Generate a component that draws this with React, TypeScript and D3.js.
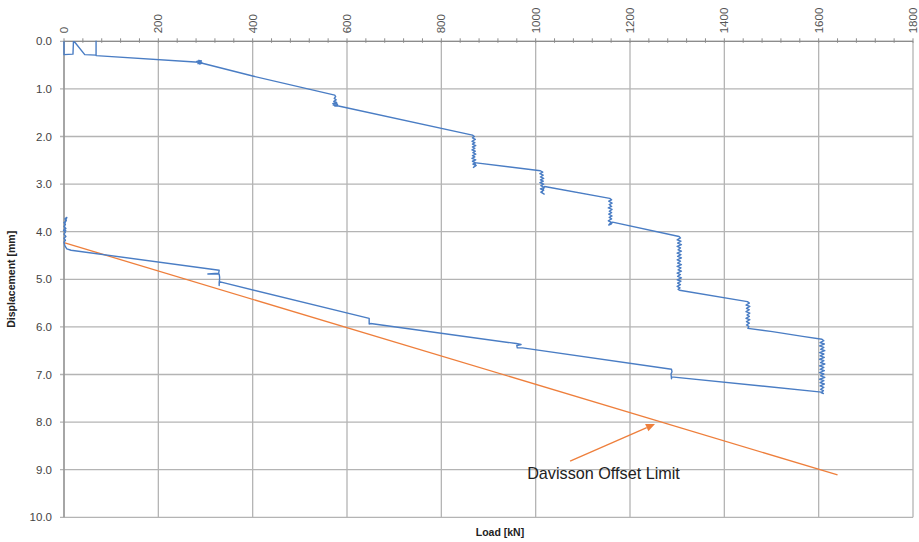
import React from "react";
import * as d3 from "d3";

// Load (kN) axis ticks and displacement (mm) axis ticks
const loadTicks = [0, 200, 400, 600, 800, 1000, 1200, 1400, 1600, 1800];
const loadMinorStep = 40;
const dispTicks = [0, 1, 2, 3, 4, 5, 6, 7, 8, 9, 10];

// Pile load test record: [load kN, displacement mm]
const seating: [number, number][] = [
  [0, 0], [0, 0.28], [19, 0.27], [20, 0.01], [23, 0.02], [44, 0.28], [68, 0.29], [68, 0.0], [68, 0.3],
];
const stage290: [number, number][] = [
  [286, 0.44], [282, 0.42], [291, 0.41], [284, 0.47], [290, 0.47], [283, 0.44], [292, 0.44], [286, 0.4],
  [288, 0.48], [285, 0.43], [289, 0.45], [400, 0.73],
];
const stage575: [number, number][] = [
  [574, 1.13], [576, 1.16], [573, 1.2], [577, 1.23], [572, 1.26], [577, 1.28], [570, 1.31], [579, 1.3],
  [571, 1.34], [580, 1.33], [574, 1.36], [582, 1.36],
];
const stage870: [number, number][] = [
  [866, 1.97], [870, 2.0], [866, 2.03], [872, 2.06], [865, 2.1], [871, 2.13], [866, 2.16], [873, 2.19],
  [866, 2.22], [871, 2.25], [865, 2.28], [872, 2.31], [867, 2.34], [873, 2.37], [866, 2.4], [871, 2.43],
  [865, 2.46], [873, 2.49], [866, 2.52], [872, 2.55], [867, 2.58], [874, 2.61], [868, 2.65], [873, 2.6],
  [870, 2.55],
];
const stage1015: [number, number][] = [
  [1010, 2.72], [1015, 2.75], [1009, 2.78], [1016, 2.81], [1010, 2.85], [1017, 2.88], [1010, 2.91],
  [1016, 2.94], [1009, 2.97], [1017, 3.0], [1011, 3.03], [1018, 3.07], [1010, 3.1], [1017, 3.13],
  [1011, 3.17], [1018, 3.21], [1013, 3.18], [1019, 3.05],
];
const stage1160: [number, number][] = [
  [1157, 3.3], [1161, 3.33], [1155, 3.36], [1162, 3.4], [1156, 3.43], [1161, 3.47], [1154, 3.5],
  [1162, 3.53], [1156, 3.57], [1161, 3.6], [1155, 3.63], [1162, 3.67], [1156, 3.7], [1161, 3.73],
  [1154, 3.77], [1160, 3.8], [1155, 3.86], [1160, 3.84], [1163, 3.8],
];
const stage1305: [number, number][] = [
  [1304, 4.1], [1307, 4.13], [1300, 4.17], [1308, 4.2], [1301, 4.24], [1309, 4.27], [1300, 4.31],
  [1307, 4.34], [1302, 4.38], [1309, 4.41], [1300, 4.45], [1308, 4.48], [1301, 4.52], [1309, 4.55],
  [1300, 4.59], [1307, 4.62], [1301, 4.66], [1309, 4.69], [1300, 4.73], [1308, 4.76], [1302, 4.8],
  [1309, 4.83], [1300, 4.87], [1307, 4.9], [1301, 4.94], [1309, 4.97], [1300, 5.01], [1308, 5.04],
  [1301, 5.08], [1307, 5.11], [1300, 5.15], [1306, 5.18], [1302, 5.21], [1305, 5.23],
];
const stage1450: [number, number][] = [
  [1449, 5.47], [1453, 5.5], [1446, 5.54], [1454, 5.57], [1447, 5.61], [1453, 5.64], [1446, 5.68],
  [1454, 5.71], [1448, 5.75], [1453, 5.78], [1446, 5.82], [1454, 5.85], [1447, 5.89], [1453, 5.92],
  [1447, 5.96], [1452, 5.99], [1450, 6.03], [1502, 6.1], [1566, 6.2],
];
const stage1607: [number, number][] = [
  [1607, 6.26], [1611, 6.29], [1603, 6.33], [1612, 6.36], [1602, 6.4], [1611, 6.43], [1604, 6.47],
  [1613, 6.5], [1602, 6.54], [1611, 6.57], [1603, 6.61], [1612, 6.64], [1602, 6.68], [1611, 6.71],
  [1604, 6.75], [1613, 6.78], [1602, 6.82], [1611, 6.85], [1603, 6.89], [1612, 6.92], [1602, 6.96],
  [1611, 6.99], [1604, 7.03], [1613, 7.06], [1602, 7.1], [1611, 7.13], [1603, 7.17], [1612, 7.2],
  [1603, 7.24], [1611, 7.27], [1604, 7.31], [1610, 7.34], [1605, 7.38], [1610, 7.4], [1606, 7.37],
];
const unloading: [number, number][] = [
  [1288, 7.05], [1288, 7.09], [1287, 6.99], [1289, 6.94], [1288, 6.89],
  [972, 6.44], [961, 6.44], [960, 6.39], [969, 6.37], [959, 6.35],
  [650, 5.93], [647, 5.94], [647, 5.82],
  [329, 5.05], [329, 5.13], [330, 4.96], [329, 4.89], [305, 4.89], [328, 4.87], [329, 4.81],
  [15, 4.39], [6, 4.36], [2, 4.3], [0, 4.22],
];
const rebound: [number, number][] = [
  [3, 4.18], [0, 4.14], [4, 4.1], [0, 4.05], [3, 4.01], [-1, 3.97], [4, 3.93], [0, 3.89], [3, 3.85],
  [0, 3.81], [5, 3.77], [2, 3.73], [6, 3.7], [3, 3.78], [1, 3.9], [4, 3.99],
];

// Davisson offset limit line
const davissonLoad = [0, 1640];
const davissonDisp = [4.23, 9.11];

// Annotation: arrow tail / tip and label anchor in data units
const arrowTail: [number, number] = [1073, 8.82];
const arrowTip: [number, number] = [1253, 8.04];
const labelAt: [number, number] = [982, 9.2];
const labelText = "Davisson Offset Limit";

const W = 919;
const H = 542;
const FONT = "'Liberation Sans', Arial, sans-serif";
const BLUE = "#4a7dc4";
const ORANGE = "#ee7f3c";
const GRID = "#b4b4b4";
const AXIS = "#8c8c8c";

export default function App() {
  const x = d3.scaleLinear().domain([0, 1800]).range([64, 913]);
  const y = d3.scaleLinear().domain([0, 10]).range([41.3, 517.3]);

  const record = [
    ...seating, ...stage290, ...stage575, ...stage870, ...stage1015, ...stage1160,
    ...stage1305, ...stage1450, ...stage1607, ...unloading, ...rebound,
  ];
  const line = d3.line<[number, number]>().x((d) => x(d[0])).y((d) => y(d[1]));

  const minor = d3.range(0, 1800 + 1, loadMinorStep);

  const tx = x(arrowTail[0]), ty = y(arrowTail[1]);
  const hx = x(arrowTip[0]), hy = y(arrowTip[1]);
  const ang = Math.atan2(hy - ty, hx - tx);
  const aL = 9, aW = 4;
  const bx = hx - aL * Math.cos(ang), by = hy - aL * Math.sin(ang);
  const head = [
    [hx, hy],
    [bx + aW * Math.sin(ang), by - aW * Math.cos(ang)],
    [bx - aW * Math.sin(ang), by + aW * Math.cos(ang)],
  ];

  const x0 = x.range()[0], x1 = x.range()[1];
  const y0 = y.range()[0], y1 = y.range()[1];

  return (
    <svg width={W} height={H} style={{ position: "absolute", left: 0, top: 0, background: "#fff" }}>
      {/* grid */}
      {loadTicks.map((t) => (
        <line key={"gx" + t} x1={x(t)} x2={x(t)} y1={y0} y2={y1} stroke={GRID} strokeWidth={1.3} />
      ))}
      {dispTicks.map((t) => (
        <line key={"gy" + t} x1={x0 - 4} x2={x1} y1={y(t)} y2={y(t)} stroke={GRID} strokeWidth={1.3} />
      ))}
      {/* axes */}
      <line x1={x0} x2={x1} y1={y0} y2={y0} stroke={AXIS} strokeWidth={1.2} />
      <line x1={x0} x2={x0} y1={y0} y2={y1} stroke={AXIS} strokeWidth={1.2} />
      {minor.map((t) => (
        <line key={"mt" + t} x1={x(t)} x2={x(t)} y1={y0 - 3} y2={y0 + 1.5} stroke={AXIS} strokeWidth={1} />
      ))}
      {loadTicks.map((t) => (
        <text
          key={"lx" + t}
          transform={`translate(${x(t) + 4},${y0 - 8}) rotate(-90)`}
          fontFamily={FONT}
          fontSize={11.5}
          fill="#555"
        >
          {t}
        </text>
      ))}
      {dispTicks.map((t) => (
        <text
          key={"ly" + t}
          x={x0 - 12}
          y={y(t) + 4}
          textAnchor="end"
          fontFamily={FONT}
          fontSize={11.5}
          fill="#444"
        >
          {d3.format(".1f")(t)}
        </text>
      ))}
      <text
        transform={`translate(15,${(y0 + y1) / 2}) rotate(-90)`}
        textAnchor="middle"
        fontFamily={FONT}
        fontSize={10.5}
        fontWeight="bold"
        fill="#222"
      >
        Displacement [mm]
      </text>
      <text x={500} y={536} textAnchor="middle" fontFamily={FONT} fontSize={10.5} fontWeight="bold" fill="#222">
        Load [kN]
      </text>

      {/* Davisson line */}
      <line
        x1={x(davissonLoad[0])}
        y1={y(davissonDisp[0])}
        x2={x(davissonLoad[1])}
        y2={y(davissonDisp[1])}
        stroke={ORANGE}
        strokeWidth={1.3}
      />
      {/* load-displacement record */}
      <path d={line(record) ?? ""} fill="none" stroke={BLUE} strokeWidth={1.4} strokeLinejoin="round" />

      {/* annotation */}
      <line x1={tx} y1={ty} x2={bx} y2={by} stroke={ORANGE} strokeWidth={1.3} />
      <polygon points={head.map((p) => p.join(",")).join(" ")} fill={ORANGE} />
      <text x={x(labelAt[0])} y={y(labelAt[1])} fontFamily={FONT} fontSize={16.2} fill="#222">
        {labelText}
      </text>
    </svg>
  );
}
